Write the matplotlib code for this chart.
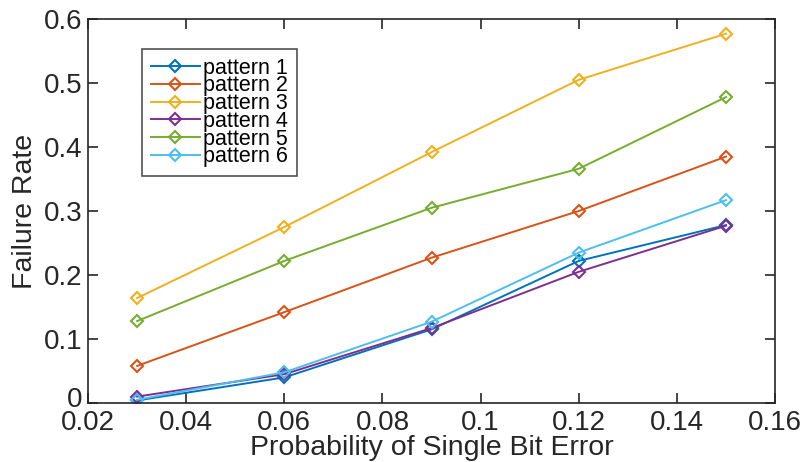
import matplotlib
matplotlib.use('agg')
import matplotlib.pyplot as plt
import matplotlib.transforms as mtransforms

plt.rcParams['font.family'] = ['Liberation Sans', 'DejaVu Sans']

x = [0.03, 0.06, 0.09, 0.12, 0.15]
pattern1 = [0.004, 0.040, 0.115, 0.222, 0.278]
pattern2 = [0.058, 0.142, 0.227, 0.300, 0.385]
pattern3 = [0.164, 0.275, 0.392, 0.505, 0.577]
pattern4 = [0.010, 0.045, 0.117, 0.205, 0.277]
pattern5 = [0.128, 0.222, 0.305, 0.366, 0.478]
pattern6 = [0.005, 0.048, 0.127, 0.235, 0.317]

series = [pattern1, pattern2, pattern3, pattern4, pattern5, pattern6]
labels = ['pattern 1', 'pattern 2', 'pattern 3', 'pattern 4', 'pattern 5', 'pattern 6']
colors = ['#0072BD', '#D95319', '#EDB120', '#7E2F8E', '#77AC30', '#4DBEEE']

fig = plt.figure(figsize=(8.04, 4.62), dpi=100)
ax = fig.add_axes([0.1095, 0.1277, 0.8545, 0.8312])

for ys, lab, c in zip(series, labels, colors):
    ax.plot(x, ys, color=c, lw=1.4, marker='D', ms=6, mfc='none', mec=c, mew=1.5, label=lab)

ax.set_xlim(0.02, 0.16)
ax.set_ylim(0, 0.6)
ax.set_xticks([0.02, 0.04, 0.06, 0.08, 0.1, 0.12, 0.14, 0.16])
ax.set_xticklabels(['0.02', '0.04', '0.06', '0.08', '0.1', '0.12', '0.14', '0.16'])
ax.set_yticks([0, 0.1, 0.2, 0.3, 0.4, 0.5, 0.6])
ax.set_yticklabels(['0', '0.1', '0.2', '0.3', '0.4', '0.5', '0.6'])

ax.tick_params(direction='in', length=7, width=1.2, top=True, right=True,
               labelsize=20, colors='#262626')
ax.tick_params(axis='x', pad=5)
ax.tick_params(axis='y', pad=4)
for s in ax.spines.values():
    s.set_color('#262626')
    s.set_linewidth(1.2)

# nudge the "0" label up a little, as in the original
zero = ax.get_yticklabels()[0]
zero.set_transform(zero.get_transform() + mtransforms.ScaledTranslation(0, 6 / 100, fig.dpi_scale_trans))

ax.set_xlabel('Probability of Single Bit Error', fontsize=20.5, color='#262626', labelpad=-1)
ax.set_ylabel('Failure Rate', fontsize=20.5, color='#262626', labelpad=4)

leg = ax.legend(loc='upper left', bbox_to_anchor=(0.0786, 0.922), fontsize=15.5,
                frameon=True, fancybox=False, edgecolor='#262626',
                handlelength=2.3, handletextpad=0.15, labelspacing=-0.15,
                borderpad=0.4, borderaxespad=0)
leg.get_frame().set_linewidth(1.2)

fig.savefig('out.png', dpi=100)
